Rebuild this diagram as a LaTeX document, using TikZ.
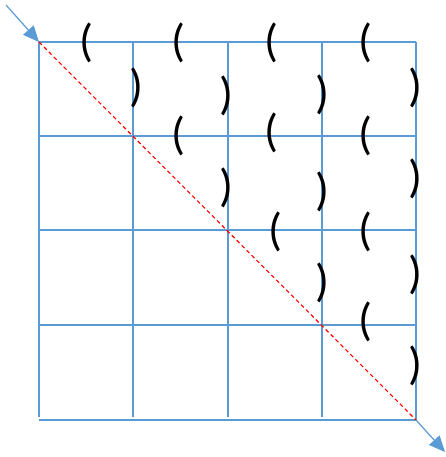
\documentclass[tikz,border=0pt]{standalone}
\usepackage{fontspec}
\setmainfont{Carlito}
\usetikzlibrary{arrows.meta}
\definecolor{gridblue}{HTML}{5B9BD5}
\begin{document}
\begin{tikzpicture}[x=1pt,y=-1pt,
  gridline/.style={gridblue,line width=2pt},
  par/.style={inner sep=0pt,outer sep=0pt,font=\fontsize{46}{46}\selectfont},
  bluearrow/.style={gridblue,line width=1.2pt,-{Triangle[length=16pt,width=14pt]}},
  diag/.style={red,line width=1.1pt,dash pattern=on 4pt off 3pt}]
\useasboundingbox (0,0) rectangle (445,457);
% grid
\foreach \y in {42,136,230,325}{\draw[gridline] (39,\y) -- (416,\y);}
\draw[gridline] (39,420) -- (416,420);
\foreach \x in {39,133,228,322}{\draw[gridline] (\x,42) -- (\x,417);}
\draw[gridline] (416,42) -- (416,420);
% coordinates
\coordinate (start) at (6,5);
\coordinate (tl) at (39,42);
\coordinate (br) at (416,420);
\coordinate (end) at (445,452);
% diagonal and arrows
\draw[diag] (tl) -- (br);
\draw[bluearrow] (start) -- (tl);
\draw[bluearrow] (br) -- (end);
% opening parentheses
\node[par] (o11) at (86,43) {(};
\node[par] (o12) at (178,43) {(};
\node[par] (o13) at (271,43) {(};
\node[par] (o14) at (365,43) {(};
\node[par] (o22) at (178,136) {(};
\node[par] (o23) at (271,133) {(};
\node[par] (o24) at (365,136) {(};
\node[par] (o33) at (275,232) {(};
\node[par] (o34) at (365,232) {(};
\node[par] (o44) at (365,322) {(};
% closing parentheses
\node[par] (c11) at (136,88) {)};
\node[par] (c12) at (226,96) {)};
\node[par] (c13) at (322,95) {)};
\node[par] (c14) at (415,88) {)};
\node[par] (c22) at (226,188) {)};
\node[par] (c23) at (322,192) {)};
\node[par] (c24) at (415,179) {)};
\node[par] (c33) at (322,283) {)};
\node[par] (c34) at (415,275) {)};
\node[par] (c44) at (415,366) {)};
\end{tikzpicture}
\end{document}
